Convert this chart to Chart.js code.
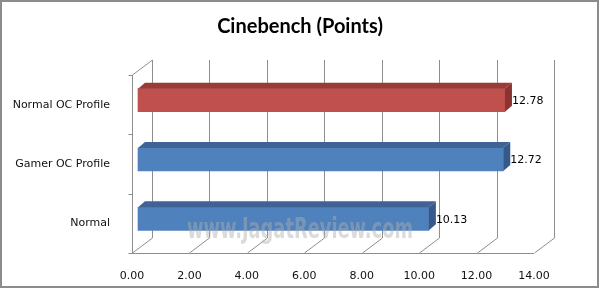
<!DOCTYPE html>
<html>
<head>
<meta charset="utf-8">
<script src="https://cdn.jsdelivr.net/npm/chart.js@4/dist/chart.umd.min.js"></script>
<style>
  html, body { margin: 0; padding: 0; background: #fff; }
  canvas { display: block; }
</style>
</head>
<body>
<canvas id="chart" width="600" height="289"></canvas>
<script>
// Chart data
const categories = ['Normal OC Profile', 'Gamer OC Profile', 'Normal'];
const scores = [12.78, 12.72, 10.13];
const xTicks = [0, 2, 4, 6, 8, 10, 12, 14];

// Excel 2007 style colours (front, top, side)
const frontColors = ['#C0504D', '#4F81BD', '#4F81BD'];
const topColors = ['#9A3B38', '#3E6394', '#3E6394'];
const sideColors = ['#8A3330', '#36598A', '#36598A'];

// 3D box settings
const WALL_DX = 20, WALL_DY = -15;   // back wall offset
const BAR_DX = 6, BAR_DY = -4.5;     // bars sit a bit into the box
const DEPTH_DX = 7, DEPTH_DY = -6;   // bar thickness in depth
const LINE = '#8e8e8e';

const box3d = {
  id: 'box3d',
  beforeDatasetsDraw(chart) {
    const { ctx, chartArea: a, scales: { x } } = chart;
    ctx.save();
    ctx.strokeStyle = LINE;
    ctx.lineWidth = 1;
    ctx.beginPath();
    // back wall grid lines + floor diagonals
    xTicks.forEach(v => {
      const fx = Math.round(x.getPixelForValue(v)) + 0.5;
      ctx.moveTo(fx + WALL_DX, a.top + WALL_DY);
      ctx.lineTo(fx + WALL_DX, a.bottom + WALL_DY);
      ctx.moveTo(fx, a.bottom);
      ctx.lineTo(fx + WALL_DX, a.bottom + WALL_DY);
    });
    // front floor edge
    const l = Math.round(a.left) + 0.5;
    ctx.moveTo(l - 4, Math.round(a.bottom) + 0.5);
    ctx.lineTo(x.getPixelForValue(14), Math.round(a.bottom) + 0.5);
    // left wall front edge and top
    ctx.moveTo(l, a.top);
    ctx.lineTo(l, a.bottom);
    ctx.moveTo(l, a.top);
    ctx.lineTo(l + WALL_DX, a.top + WALL_DY);
    // category tick marks
    const step = (a.bottom - a.top) / categories.length;
    for (let i = 0; i < categories.length; i++) {
      const ty = Math.round(a.top + i * step) + 0.5;
      ctx.moveTo(l - 4, ty);
      ctx.lineTo(l, ty);
    }
    ctx.stroke();
    ctx.restore();

    // shift the bars into the box
    ctx.save();
    ctx.translate(BAR_DX, BAR_DY);
  },
  afterDatasetsDraw(chart) {
    const { ctx } = chart;
    const meta = chart.getDatasetMeta(0);
    meta.data.forEach((bar, i) => {
      const p = bar.getProps(['x', 'y', 'base', 'height'], true);
      const L = p.base, R = p.x, T = p.y - p.height / 2, B = p.y + p.height / 2;
      // top face
      ctx.fillStyle = topColors[i];
      ctx.beginPath();
      ctx.moveTo(L, T);
      ctx.lineTo(R, T);
      ctx.lineTo(R + DEPTH_DX, T + DEPTH_DY);
      ctx.lineTo(L + DEPTH_DX, T + DEPTH_DY);
      ctx.closePath();
      ctx.fill();
      // side face
      ctx.fillStyle = sideColors[i];
      ctx.beginPath();
      ctx.moveTo(R, T);
      ctx.lineTo(R + DEPTH_DX, T + DEPTH_DY);
      ctx.lineTo(R + DEPTH_DX, B + DEPTH_DY);
      ctx.lineTo(R, B);
      ctx.closePath();
      ctx.fill();
      // value label
      ctx.fillStyle = '#000';
      ctx.font = '11px "DejaVu Sans"';
      ctx.textAlign = 'left';
      ctx.textBaseline = 'middle';
      ctx.fillText(scores[i].toFixed(2), R + DEPTH_DX, p.y + 1);
    });
    ctx.restore();
  },
  afterDraw(chart) {
    const { ctx } = chart;
    ctx.save();
    // watermark, squeezed to its width in the picture
    ctx.font = 'bold 28px "DejaVu Sans Condensed", "DejaVu Sans", sans-serif';
    ctx.fillStyle = 'rgba(175,175,175,0.45)';
    ctx.textAlign = 'left';
    ctx.textBaseline = 'middle';
    const mark = 'www.JagatReview.com';
    const w = ctx.measureText(mark).width;
    ctx.translate(187, 231);
    ctx.scale(226 / w, 1);
    ctx.fillText(mark, 0, 0);
    ctx.restore();

    // outer border
    ctx.save();
    ctx.strokeStyle = '#8c8c8c';
    ctx.lineWidth = 2;
    ctx.strokeRect(1, 1, 597, 286);
    ctx.restore();
  }
};

new Chart(document.getElementById('chart'), {
  type: 'bar',
  data: {
    labels: categories,
    datasets: [{
      data: scores,
      backgroundColor: frontColors,
      borderWidth: 0,
      barThickness: 23,
      clip: false
    }]
  },
  options: {
    indexAxis: 'y',
    responsive: false,
    animation: false,
    devicePixelRatio: 1,
    layout: { padding: 0 },
    plugins: {
      legend: { display: false },
      tooltip: { enabled: false },
      title: {
        display: true,
        text: 'Cinebench (Points)',
        color: '#000',
        font: { family: 'Lato', size: 20, weight: 'bold', lineHeight: '24px' },
        padding: { top: 15, bottom: 36 }
      }
    },
    scales: {
      x: {
        min: 0,
        max: 14,
        afterBuildTicks: s => { s.ticks = xTicks.map(v => ({ value: v })); },
        afterFit: s => { s.height = 36; },
        grid: { display: false },
        border: { display: false },
        ticks: {
          padding: 9,
          color: '#111',
          font: { family: 'DejaVu Sans', size: 11 },
          callback: v => Number(v).toFixed(2)
        }
      },
      y: {
        afterFit: s => { s.width = 132; },
        grid: { display: false },
        border: { display: false },
        ticks: {
          padding: 14,
          color: '#111',
          font: { family: 'DejaVu Sans', size: 11 }
        }
      },
      // empty right-hand space holder so the plot ends where the picture does
      yRight: {
        position: 'right',
        afterFit: s => { s.width = 66; },
        grid: { display: false },
        border: { display: false },
        ticks: { display: false }
      }
    }
  },
  plugins: [box3d]
});
</script>
</body>
</html>
